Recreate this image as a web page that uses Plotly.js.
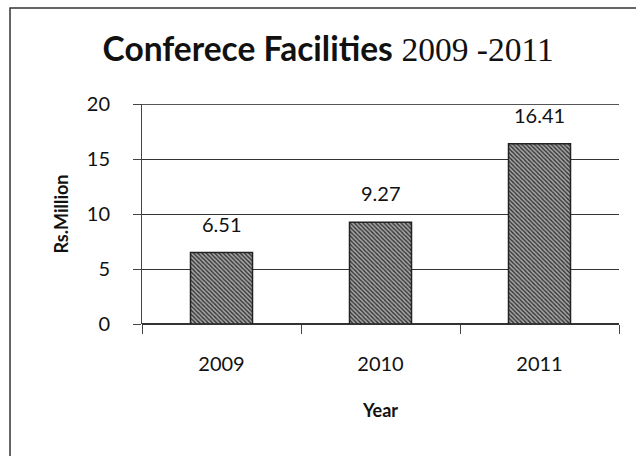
<!DOCTYPE html>
<html>
<head>
<meta charset="utf-8">
<script src="https://cdn.plot.ly/plotly-3.0.1.min.js"></script>
<style>html,body{margin:0;padding:0;background:#fff;}#chart{width:636px;height:456px;}</style>
</head>
<body>
<div id="chart"></div>
<script>
var years = ['2009', '2010', '2011'];
var values = [6.51, 9.27, 16.41];
var valueLabels = ['6.51', '9.27', '16.41'];
var yTicks = [0, 5, 10, 15, 20];

var FONT = 'Lato, "Open Sans", sans-serif';

var trace = {
  type: 'bar',
  x: years,
  y: values,
  marker: {
    color: '#8f8f8f',
    line: {color: '#222', width: 1.5},
    pattern: {shape: '\\', fgcolor: '#333', bgcolor: '#a6a6a6', size: 3, solidity: 0.45}
  },
  hoverinfo: 'none',
  showlegend: false
};

// category index of each year (annotations on category axes take the index)
var annotations = years.map(function (yr, i) {
  return {
    x: i, y: values[i], xref: 'x', yref: 'y',
    text: valueLabels[i], showarrow: false,
    yanchor: 'bottom', yshift: 15,
    font: {family: FONT, size: 20, color: '#111'}
  };
});

var yTop = yTicks[yTicks.length - 1];

var layout = {
  width: 636, height: 456,
  margin: {l: 142, r: 17, t: 104, b: 132},
  paper_bgcolor: '#fff', plot_bgcolor: '#fff',
  bargap: 0.61,
  title: {
    text: '<b>Conferece Facilities</b> <span style="font-family:\'Liberation Serif\',serif">2009 -2011</span>',
    x: 0.516, xanchor: 'center', y: 0.893, yanchor: 'middle',
    font: {family: FONT, size: 33.5, color: '#111'}
  },
  xaxis: {
    type: 'category',
    categoryorder: 'array', categoryarray: years,
    range: [-0.5, years.length - 0.5],
    showgrid: false,
    showline: false,
    ticks: 'outside', tickson: 'boundaries', ticklen: 9, tickcolor: '#444', tickwidth: 1,
    ticklabelstandoff: 26,
    tickfont: {family: FONT, size: 20, color: '#111'},
    title: {text: '<b>Year</b>', font: {family: FONT, size: 18, color: '#111'}, standoff: 30},
    zeroline: false
  },
  yaxis: {
    range: [0, 20.03],
    tickvals: yTicks,
    ticktext: yTicks.map(String),
    showgrid: true, gridcolor: '#333', gridwidth: 1,
    showline: true, linecolor: '#444', linewidth: 1,
    ticks: 'outside', ticklen: 8, tickcolor: '#444',
    ticklabelstandoff: 19,
    tickfont: {family: FONT, size: 20, color: '#111'},
    title: {text: '<b>Rs.Million</b>', font: {family: FONT, size: 18, color: '#111'}, standoff: 13},
    zeroline: true, zerolinecolor: '#333', zerolinewidth: 1.5
  },
  annotations: annotations,
  shapes: [
    {
      type: 'line', xref: 'paper', yref: 'y',
      x0: 0, x1: 1, y0: yTop, y1: yTop,
      line: {color: '#333', width: 1}
    },
    {
      type: 'path', xref: 'paper', yref: 'paper',
      path: 'M -0.2767,-0.62 L -0.2767,1.436 L 1.04,1.436',
      line: {color: '#333', width: 1.5}
    }
  ]
};

Plotly.newPlot('chart', [trace], layout, {displayModeBar: false, staticPlot: true});
</script>
</body>
</html>
